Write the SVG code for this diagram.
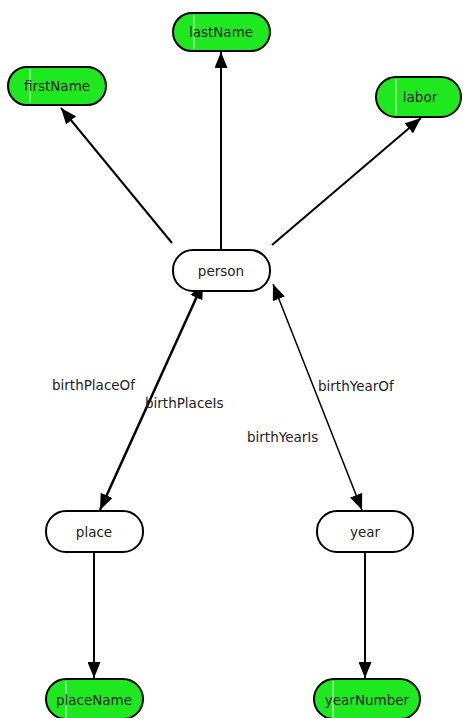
<svg xmlns="http://www.w3.org/2000/svg" width="465" height="718" viewBox="0 0 465 718">
<style>
.node rect{stroke:#000;stroke-width:2}
.lit rect{fill:#1ee81e}
.res rect{fill:#fff}
.node text{font-family:"DejaVu Sans",sans-serif;font-size:13.5px;fill:#222;text-anchor:middle;dominant-baseline:central}
.node line{stroke:#e8ffe8;stroke-width:1}
.edge{stroke:#000;fill:none}
.lbl{font-family:"DejaVu Sans",sans-serif;font-size:13.5px;fill:#222}
</style>
<defs>
<marker id="ah" markerUnits="userSpaceOnUse" markerWidth="17" markerHeight="13" refX="16" refY="6.5" orient="auto-start-reverse">
<path d="M0,0 L16,6.5 L0,13 z" fill="#000"/>
</marker>
</defs>
<rect width="465" height="718" fill="#fff"/>
<g id="connectors">
<line class="edge" x1="172" y1="243" x2="61" y2="108" stroke-width="2" marker-end="url(#ah)"/>
<line class="edge" x1="221" y1="250" x2="221" y2="52" stroke-width="2" marker-end="url(#ah)"/>
<line class="edge" x1="272" y1="245" x2="421" y2="118" stroke-width="2" marker-end="url(#ah)"/>
<line class="edge" x1="203" y1="283" x2="100" y2="510" stroke-width="2.5" marker-start="url(#ah)" marker-end="url(#ah)"/>
<line class="edge" x1="273" y1="284" x2="362" y2="510" stroke-width="1.5" marker-start="url(#ah)" marker-end="url(#ah)"/>
<line class="edge" x1="94" y1="552" x2="94" y2="678" stroke-width="2" marker-end="url(#ah)"/>
<line class="edge" x1="365" y1="552" x2="365" y2="678" stroke-width="2" marker-end="url(#ah)"/>
<text class="lbl" x="52" y="390">birthPlaceOf</text>
<text class="lbl" x="145" y="408">birthPlaceIs</text>
<text class="lbl" x="318" y="391">birthYearOf</text>
<text class="lbl" x="247" y="442">birthYearIs</text>
</g>
<g id="lastName" class="node lit">
<rect x="173" y="13" width="97" height="38" rx="19"/>
<line x1="194" y1="15" x2="194" y2="49"/>
<text x="221" y="32">lastName</text>
</g>
<g id="firstName" class="node lit">
<rect x="8" y="67" width="98" height="38" rx="19"/>
<line x1="30" y1="69" x2="30" y2="103"/>
<text x="57" y="86">firstName</text>
</g>
<g id="labor" class="node lit">
<rect x="376" y="77" width="85" height="40" rx="20"/>
<line x1="396" y1="79" x2="396" y2="115"/>
<text x="420" y="97">labor</text>
</g>
<g id="person" class="node res">
<rect x="173" y="250" width="97" height="41" rx="20"/>
<text x="221" y="271">person</text>
</g>
<g id="place" class="node res">
<rect x="46" y="511" width="97" height="41" rx="20"/>
<text x="94" y="532">place</text>
</g>
<g id="year" class="node res">
<rect x="317" y="511" width="96" height="41" rx="20"/>
<text x="365" y="532">year</text>
</g>
<g id="placeName" class="node lit">
<rect x="46" y="679" width="97" height="40" rx="20"/>
<line x1="66" y1="681" x2="66" y2="718"/>
<text x="94" y="700">placeName</text>
</g>
<g id="yearNumber" class="node lit">
<rect x="314" y="679" width="106" height="40" rx="20"/>
<line x1="333" y1="681" x2="333" y2="718"/>
<text x="367" y="700">yearNumber</text>
</g>
</svg>
